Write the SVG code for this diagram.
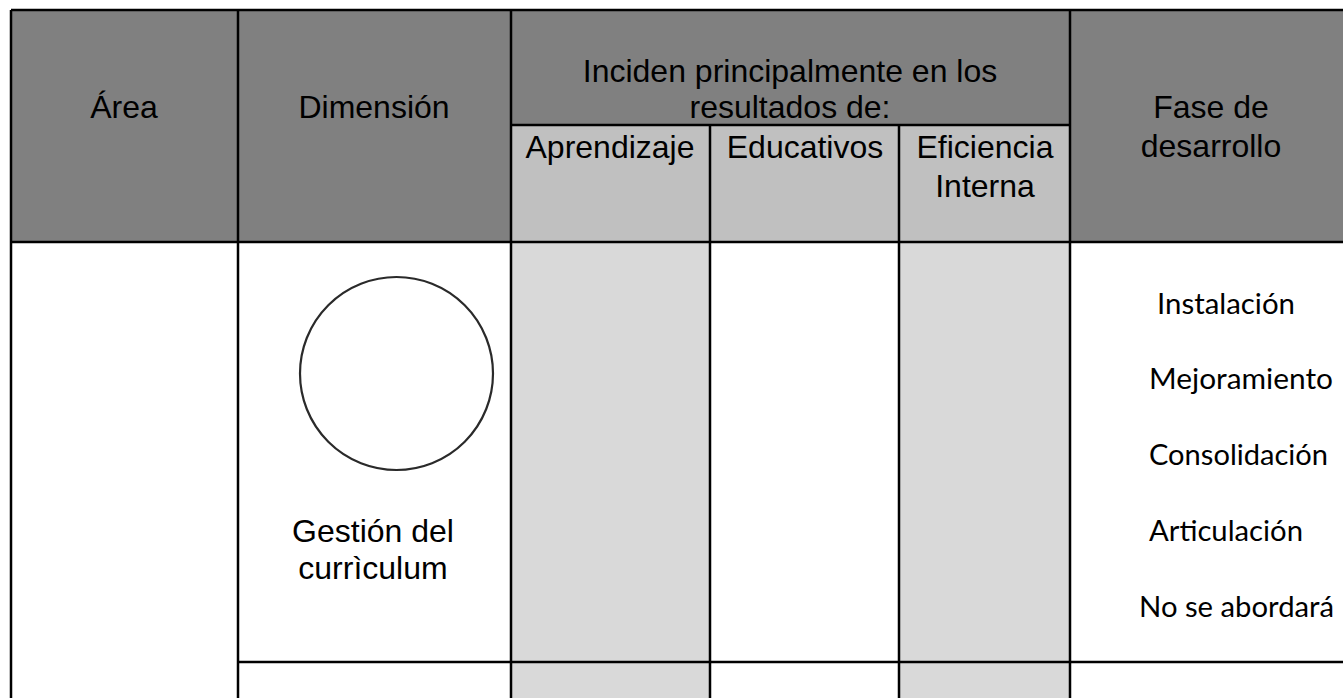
<svg xmlns="http://www.w3.org/2000/svg" width="1343" height="698" viewBox="0 0 1343 698">
<style>
.hd{font-family:"Liberation Sans",Arial,sans-serif;font-size:32px;fill:#000;text-anchor:middle}
.ph{font-family:Lato,"Open Sans",sans-serif;font-size:29px;fill:#000}
.ln{stroke:#000;stroke-width:2.5;fill:none}
</style>
<rect width="1343" height="698" fill="#fff"/>
<g id="header">
<rect x="11" y="10" width="1340" height="232" fill="#808080"/>
<rect x="511" y="125" width="559" height="117" fill="#c0c0c0"/>
<text class="hd" x="124" y="118">Área</text>
<text class="hd" x="374" y="118">Dimensión</text>
<text class="hd" x="790" y="82">Inciden principalmente en los</text>
<text class="hd" x="790" y="118">resultados de:</text>
<text class="hd" x="610" y="158">Aprendizaje</text>
<text class="hd" x="805" y="158">Educativos</text>
<text class="hd" x="985" y="158">Eficiencia</text>
<text class="hd" x="985" y="197">Interna</text>
<text class="hd" x="1211" y="118">Fase de</text>
<text class="hd" x="1211" y="157">desarrollo</text>
</g>
<g id="body">
<rect x="511" y="242" width="199" height="456" fill="#d9d9d9"/>
<rect x="899" y="242" width="171" height="456" fill="#d9d9d9"/>
</g>
<g id="dimension">
<circle cx="396.5" cy="373.5" r="96.5" fill="#fff" stroke="#2a2a2a" stroke-width="2.2"/>
<text class="hd" x="373" y="542">Gestión del</text>
<text class="hd" x="373" y="579">currìculum</text>
</g>
<g id="fases">
<text class="ph" x="1157" y="314" textLength="138" lengthAdjust="spacingAndGlyphs">Instalación</text>
<text class="ph" x="1149" y="389" textLength="184" lengthAdjust="spacingAndGlyphs">Mejoramiento</text>
<text class="ph" x="1149" y="465" textLength="179" lengthAdjust="spacingAndGlyphs">Consolidación</text>
<text class="ph" x="1149" y="541" textLength="154" lengthAdjust="spacingAndGlyphs">Articulación</text>
<text class="ph" x="1139" y="617" textLength="195" lengthAdjust="spacingAndGlyphs">No se abordará</text>
</g>
<g id="grid">
<line class="ln" x1="11" y1="10" x2="1343" y2="10"/>
<line class="ln" x1="11" y1="10" x2="11" y2="698"/>
<line class="ln" x1="238" y1="10" x2="238" y2="698"/>
<line class="ln" x1="511" y1="10" x2="511" y2="698"/>
<line class="ln" x1="710" y1="125" x2="710" y2="698"/>
<line class="ln" x1="899" y1="125" x2="899" y2="698"/>
<line class="ln" x1="1070" y1="10" x2="1070" y2="698"/>
<line class="ln" x1="511" y1="125" x2="1070" y2="125"/>
<line class="ln" x1="11" y1="242" x2="1343" y2="242"/>
<line class="ln" x1="238" y1="662" x2="1343" y2="662" stroke-width="3"/>
</g>
</svg>
